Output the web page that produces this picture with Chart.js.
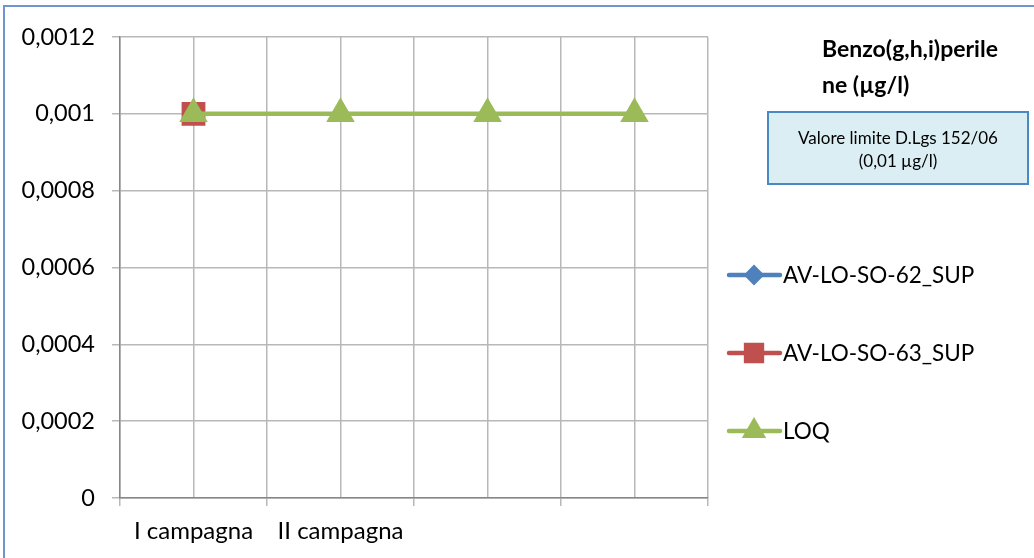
<!DOCTYPE html>
<html>
<head>
<meta charset="utf-8">
<script src="https://cdn.jsdelivr.net/npm/chart.js@4"></script>
<style>
  html, body { margin: 0; padding: 0; background: #fff; }
  #wrap { width: 1034px; height: 558px; }
</style>
</head>
<body>
<div id="wrap"><canvas id="chartCan" width="1034" height="558"></canvas></div>
<script>
const categories = ['I campagna', 'II campagna', '', '']
const seriesNames = ['AV-LO-SO-62_SUP', 'AV-LO-SO-63_SUP', 'LOQ']
const av62 = [0.001, null, null, null]
const av63 = [0.001, null, null, null]
const loq = [0.001, 0.001, 0.001, 0.001]
const yMin = 0
const yMax = 0.0012
const yStep = 0.0002
const titleLines = ['Benzo(g,h,i)perile', 'ne (\u00b5g/l)']
const noteLines = ['Valore limite D.Lgs 152/06', '(0,01 \u00b5g/l)']

const FONT = 'Lato, "Open Sans", sans-serif'
const gridColor = '#b8b8b8'
const axisColor = '#878787'

// y labels use a comma as decimal separator
const fmt = v => Number(v.toFixed(4)).toString().replace('.', ',')

// title, note box, legend and outer frame
const extras = {
  id: 'extras',
  afterDraw(chart) {
    const ctx = chart.ctx
    ctx.save()

    // frame (only the left and top edges are visible)
    ctx.strokeStyle = '#6f96cc'
    ctx.lineWidth = 2
    ctx.beginPath()
    ctx.moveTo(4, 570)
    ctx.lineTo(4, 6)
    ctx.lineTo(1040, 6)
    ctx.stroke()

    ctx.fillStyle = '#000'
    ctx.textAlign = 'left'
    ctx.textBaseline = 'middle'
    ctx.font = 'bold 23px ' + FONT
    ctx.fillText(titleLines[0], 822, 50)
    ctx.fillText(titleLines[1], 822, 86)

    // note box
    ctx.fillStyle = '#dbeef4'
    ctx.fillRect(768, 112, 260, 72)
    ctx.strokeStyle = '#4a8ac4'
    ctx.lineWidth = 2
    ctx.strokeRect(768, 112, 260, 72)
    ctx.fillStyle = '#000'
    ctx.textAlign = 'center'
    ctx.font = '17px ' + FONT
    ctx.fillText(noteLines[0], 898, 139)
    ctx.fillText(noteLines[1], 898, 162)

    // legend
    const ys = [275, 353, 431]
    ctx.textAlign = 'left'
    ctx.font = '22.5px ' + FONT
    chart.data.datasets.forEach((ds, i) => {
      const y = ys[i]
      ctx.strokeStyle = ds.borderColor
      ctx.lineWidth = 4.5
      ctx.lineCap = 'round'
      ctx.beginPath()
      ctx.moveTo(729, y)
      ctx.lineTo(780, y)
      ctx.stroke()
      Chart.helpers.drawPoint(ctx, {
        pointStyle: ds.pointStyle,
        radius: ds.pointRadius * 0.8,
        borderWidth: 1,
        rotation: 0
      }, 754, y)
      ctx.fillStyle = ds.pointBackgroundColor
      ctx.fill()
      ctx.fillStyle = '#000'
      ctx.fillText(ds.label, 783, y + 1)
    })
    ctx.restore()
  }
}

new Chart(document.getElementById('chartCan'), {
  type: 'line',
  data: {
    labels: categories,
    datasets: [
      {
        label: seriesNames[0],
        data: av62,
        borderColor: '#4f81bd',
        backgroundColor: '#4f81bd',
        pointBackgroundColor: '#4f81bd',
        pointBorderColor: '#4f81bd',
        pointStyle: 'rectRot',
        pointRadius: 9,
        borderWidth: 4,
        order: 2
      },
      {
        label: seriesNames[1],
        data: av63,
        borderColor: '#c0504d',
        backgroundColor: '#c0504d',
        pointBackgroundColor: '#c0504d',
        pointBorderColor: '#c0504d',
        pointStyle: 'rect',
        pointRadius: 14,
        borderWidth: 4,
        order: 1
      },
      {
        label: seriesNames[2],
        data: loq,
        borderColor: '#9bbb59',
        backgroundColor: '#9bbb59',
        pointBackgroundColor: '#9bbb59',
        pointBorderColor: '#9bbb59',
        pointStyle: 'triangle',
        pointRadius: 12,
        borderWidth: 4.5,
        order: 0
      }
    ]
  },
  options: {
    responsive: false,
    animation: false,
    layout: { padding: { top: 37, right: 326, bottom: 0, left: 0 } },
    plugins: {
      legend: { display: false },
      title: { display: false },
      tooltip: { enabled: false }
    },
    scales: {
      x: {
        offset: true,
        grid: { offset: true, color: gridColor, lineWidth: 1.5, tickLength: 8 },
        border: { color: axisColor, width: 1.5 },
        ticks: { color: '#000', font: { family: FONT, size: 24 }, padding: 11, maxRotation: 0, autoSkip: false },
        afterFit: s => { s.height = 60 }
      },
      xc: {
        type: 'category',
        labels: categories,
        position: 'bottom',
        offset: true,
        grid: { offset: false, color: gridColor, lineWidth: 1.5, drawTicks: false },
        border: { display: false },
        ticks: { display: false },
        afterFit: s => { s.height = 0 }
      },
      y: {
        min: yMin,
        max: yMax,
        grid: { color: gridColor, lineWidth: 1.5, tickLength: 8 },
        border: { color: axisColor, width: 1.5 },
        ticks: {
          stepSize: yStep,
          color: '#000',
          font: { family: FONT, size: 23.5 },
          padding: 17,
          callback: v => fmt(v)
        },
        afterFit: s => { s.width = 120 }
      }
    }
  },
  plugins: [extras]
})
</script>
</body>
</html>
